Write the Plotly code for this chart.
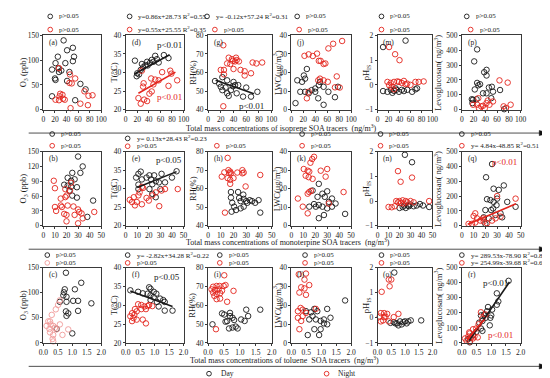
import plotly.graph_objects as go

# ---------------- data ----------------
# Row 1: isoprene SOA tracers (ng/m3)
A_DAY_X = [35, 41, 25, 51, 53, 51, 21, 38, 15, 26, 31, 27, 45, 20, 21, 41, 64, 73, 55, 15]
A_DAY_Y = [140, 120, 107, 125, 107, 98, 94, 94, 81, 83, 79, 76, 76, 63, 60, 58, 52, 41, 19, 27]
A_NIGHT_X = [27, 46, 55, 45, 49, 71, 29, 28, 21, 27, 34, 37, 47, 64, 77, 78, 85, 33]
A_NIGHT_Y = [84, 71, 63, 54, 53, 37, 32, 27, 20, 19, 22, 20, 3, 12, 9, 28, 29, 30]

D_DAY_X = [16, 20, 19, 23, 26, 30, 34, 38, 42, 45, 51, 54, 57, 66, 74, 37, 28, 48]
D_DAY_Y = [33.2, 29.8, 29.0, 29.5, 30.7, 31.4, 32.0, 31.9, 32.6, 33.4, 34.5, 33.6, 32.7, 34.7, 33.9, 32.9, 32.3, 32.9]
D_NIGHT_X = [28, 31, 30, 22, 26, 32, 37, 45, 41, 48, 51, 57, 63, 77, 79, 89, 74, 44]
D_NIGHT_Y = [30.5, 27.1, 26.2, 23.1, 21.6, 22.7, 22.3, 24.9, 24.3, 26.8, 28.1, 27.9, 30.1, 30.5, 29.7, 27.9, 26.4, 28.4]
D_FIT_DAY_X = [15, 76]
D_FIT_DAY_Y = [29.6, 34.8]
D_FIT_NIGHT_X = [22, 86]
D_FIT_NIGHT_Y = [24.4, 30.1]

G_DAY_X = [11, 17.5, 20, 22.5, 27.5, 30, 32.5, 36, 39, 42.5, 47.5, 45, 55, 60, 67.5, 77.5, 40, 30, 22.5]
G_DAY_Y = [55.4, 54, 52.3, 50.5, 51.9, 48.8, 47.4, 50.5, 52.6, 53.2, 53.2, 48.8, 47, 51.9, 47, 49.6, 54.9, 55.8, 57.5]
G_NIGHT_X = [24, 32.5, 30, 37.5, 44, 39, 35, 20, 25, 40, 42.5, 48.5, 45, 51, 70, 76, 67.5, 57.5, 25, 24, 57.5, 85]
G_NIGHT_Y = [74.7, 68, 64.9, 67.2, 68, 66.3, 64.6, 61.4, 61.4, 61.9, 66, 66, 66.7, 61.4, 65.4, 64.9, 59.6, 60.7, 59, 41.8, 58.4, 65.4]
G_FIT_DAY_X = [12, 72]
G_FIT_DAY_Y = [55.8, 48.6]

J_DAY_X = [26, 21, 18, 10, 15, 23, 29, 34, 40, 46, 48, 54, 45, 62, 73, 7, 54, 78, 23, 40]
J_DAY_Y = [21.9, 18.4, 15, 15.8, 9.6, 9.6, 8.8, 10.5, 11.4, 13.2, 14.9, 12.3, 6.1, 9.6, 6.7, 3.5, 2.6, 12.3, 16.7, 9.6]
J_NIGHT_X = [29, 36, 43, 49, 54, 57, 62, 46, 70, 85, 54, 61, 73, 76, 26, 29, 45, 48, 81, 22]
J_NIGHT_Y = [29.8, 28.9, 30.2, 26.3, 24.6, 24.9, 33, 26.3, 35.5, 37, 15.8, 15, 12, 17.9, 6.1, 9.6, 15.8, 16.7, 11.9, 29]

M_DAY_X = [51, 10, 10, 18, 24, 27, 30, 34, 39, 44, 48, 54, 63, 69, 72, 33]
M_DAY_Y = [1.79, 1.53, -0.25, -0.28, -0.2, -0.32, -0.24, -0.2, -0.28, -0.2, -0.25, -0.2, -0.28, -0.18, -0.14, -0.14]
M_NIGHT_X = [21, 32, 40, 18, 24, 30, 36, 39, 44, 51, 54, 60, 69, 75, 84, 26, 30, 48, 21]
M_NIGHT_Y = [1.53, 1.24, 1.0, 0.12, 0.08, 0.12, 0.14, 0.12, 0.08, 0.03, 0.05, 0, 0.12, 0.12, 0.14, -0.08, -0.18, 0.16, -0.01]

P_DAY_X = [26, 21, 38, 42, 42, 26, 28, 31, 22, 36, 42, 46, 51, 53, 65, 50, 17, 18, 19, 25, 72]
P_DAY_Y = [406, 325, 252, 268, 230, 180, 164, 171, 136, 110, 110, 149, 154, 121, 132, 77, 70, 44, 66, 70, 3]
P_NIGHT_X = [28, 19, 26, 29, 36, 42, 44, 47, 39, 53, 64, 78, 71, 83, 75, 33]
P_NIGHT_Y = [77, 33, 33, 11, 26, 44, 61, 33, 9, 55, 197, 182, 22, 33, 11, 22]

# Row 2: monoterpene SOA tracers (ng/m3)
B_DAY_X = [30, 34, 25, 32, 21, 24, 18, 21, 24, 29, 25, 29, 38, 43, 27, 22.5]
B_DAY_Y = [140, 120, 107, 107, 97, 91, 83, 81, 79, 78, 61, 57, 18, 51, 94, 71]
B_NIGHT_X = [9, 10, 19, 23, 24, 20, 19, 15, 15, 16, 10, 11, 21, 26, 30, 31, 33, 18, 20, 20, 30, 34, 44, 27]
B_NIGHT_Y = [91, 76, 74, 71, 87, 61, 58, 55, 41, 38, 38, 30, 41, 39, 33, 28, 25, 24, 22, 9, 5, 15, 28, 22]

E_DAY_X = [11, 13, 9, 14, 18, 20.5, 22, 24.6, 26, 23, 28.7, 31, 34, 40, 44, 11, 20.5, 23, 26, 30, 11]
E_DAY_Y = [34, 34.6, 33, 32.5, 33, 33.6, 32.5, 33.6, 32, 31.2, 31.7, 34, 31.7, 33, 34.7, 29.9, 29.9, 28.6, 27.7, 29.9, 31.1]
E_NIGHT_X = [3.5, 7, 8, 9.6, 11, 12, 14, 15, 18, 20, 23, 26, 31, 34, 29, 45, 14, 5.5]
E_NIGHT_Y = [27, 27.7, 25.5, 26.4, 28.2, 29, 30.5, 30.2, 27.5, 26.8, 28.2, 29, 29.5, 29.9, 25.3, 29.9, 25.8, 26.4]
E_FIT_DAY_X = [10, 44]
E_FIT_DAY_Y = [30.3, 34.6]

H_DAY_X = [18, 18, 19, 20.5, 22, 18.5, 23.6, 24.4, 25.6, 27.7, 28, 30, 30.8, 32.8, 34.6, 37, 39.7, 28, 41, 25.6]
H_DAY_Y = [58.2, 55.2, 52.4, 50.3, 48.5, 47.6, 58.2, 55, 53.3, 56.8, 54.5, 53.3, 52.4, 53.8, 53.3, 52.4, 53.8, 50.3, 47.1, 49.4]
H_NIGHT_X = [15.4, 16, 16.7, 17.4, 12.8, 10.8, 15.4, 17.4, 20, 23, 27, 28, 27, 29.5, 41, 18, 13.3, 17.4]
H_NIGHT_Y = [76.6, 70, 68.3, 69.2, 68.8, 66.5, 65.7, 64.8, 65.7, 68.7, 70, 68.7, 68.3, 61.2, 67.4, 68.3, 47.1, 62.6]

K_DAY_X = [23, 17.8, 21.9, 26, 28, 30, 34, 20.5, 23, 26, 30, 34, 37, 27.3, 23, 45, 31.4, 19, 15]
K_DAY_Y = [22.6, 19, 15.6, 17.3, 15.6, 18.6, 14.7, 10.3, 11.2, 10.3, 9.4, 10.3, 12, 5.8, 4.1, 6.4, 12.9, 11.7, 10.3]
K_NIGHT_X = [19, 16, 17.5, 12, 10.4, 13.7, 15, 14.5, 17.8, 28.7, 30, 24.6, 16.4, 15, 13.7, 5.5, 9.6, 13.7, 31.4, 43.7]
K_NIGHT_Y = [37.2, 34, 36, 27, 30.6, 29.7, 29.2, 26.2, 25.3, 26.5, 30.6, 29.7, 18.8, 18.2, 17.3, 14.7, 10.3, 6.7, 12, 18.2]

N_DAY_X = [24.9, 31.4, 20, 22.9, 25.7, 27.7, 30, 32.9, 35.7, 38.6, 41.4, 47, 24.3, 28.6]
N_DAY_Y = [1.87, 1.57, -0.28, -0.24, -0.28, -0.18, -0.14, -0.21, -0.18, -0.12, -0.18, -0.24, -0.18, -0.21]
N_NIGHT_X = [18.6, 21, 31.4, 10, 12.9, 17, 18.6, 20, 21.4, 22.9, 25.7, 27.1, 30, 32.9, 47, 15.7, 24]
N_NIGHT_Y = [1.21, 0.78, 0.95, -0.24, -0.25, 0, -0.05, 0, -0.08, 0.03, 0, -0.05, 0, -0.05, 0, -0.21, -0.1]

Q_DAY_X = [25.7, 20.6, 27, 31.4, 35.7, 21.4, 24.3, 27, 30, 29.5, 38.6, 45.7, 20, 24.9, 28.6, 32.9, 22.9, 20, 18.6, 26.6, 34.3]
Q_DAY_Y = [416, 327, 250, 242, 272, 179, 173, 161, 183, 139, 161, 128, 106, 106, 73, 84, 50, 13, 57, 117, 57]
Q_NIGHT_X = [45.7, 30, 11.4, 10, 12.9, 15.7, 5.7, 8.6, 11.4, 18.6, 21.4, 25.7, 28.6, 32.9, 18]
Q_NIGHT_Y = [183, 200, 84, 66, 50, 35, 13, 13, 22, 29, 17, 35, 50, 62, 50]
Q_FIT_NIGHT_X = [5, 46]
Q_FIT_NIGHT_Y = [10, 148]

# Row 3: toluene SOA tracers (ng/m3)
C_DAY_X = [0.78, 0.74, 0.71, 1.09, 1.31, 0.8, 0.8, 1.03, 1.2, 1.66, 0.57, 0.78, 0.86, 0.8, 1.2, 1.0, 0.46, 0.69]
C_DAY_Y = [140, 107, 101, 107, 120, 92, 82, 84, 84, 79, 82, 63, 59, 54, 64, 19, 28, 95]
C_NIGHT_X = [0.57, 0.51, 0.43, 0.29, 0.23, 0.25, 0.21, 0.34, 0.4, 0.46, 0.23, 0.34, 0.32, 0.34, 0.66, 0.86, 0.57, 0.11, 0.17]
C_NIGHT_Y = [85, 76, 67, 56, 43, 37, 28, 34, 30, 27, 21, 16, 8, 3, 16, 27, 37, 34, 43]

F_DAY_X = [0.16, 0.43, 0.59, 0.81, 0.86, 0.76, 0.86, 0.97, 1.06, 0.97, 1.19, 1.3, 1.35, 1.08, 0.86, 1.62, 1.35, 1.14]
F_DAY_Y = [34, 33.6, 33.2, 34.8, 34.4, 33.1, 32.7, 33.6, 33.1, 32.2, 31.8, 31.4, 30.9, 30.9, 31.4, 28.6, 28.6, 29.7]
F_NIGHT_X = [0.43, 0.54, 0.65, 0.7, 0.54, 0.38, 0.22, 0.3, 0.16, 0.27, 0.38, 0.59, 0.7, 0.76, 0.92, 0.81, 0.22, 0.32]
F_NIGHT_Y = [30.3, 30.1, 29.7, 29, 29, 28.4, 27.9, 27.5, 27.1, 26.6, 26.2, 26.2, 25.2, 29.8, 29.8, 30.1, 25.8, 29]
F_FIT_DAY_X = [0.16, 1.62]
F_FIT_DAY_Y = [33.8, 29.7]

I_DAY_X = [0.14, 0.44, 0.51, 0.69, 0.69, 0.77, 0.82, 0.6, 0.66, 0.77, 0.87, 0.93, 1.04, 1.15, 1.2, 1.26, 1.64, 0.55]
I_DAY_Y = [49.9, 55.7, 55.1, 56, 54.3, 53.4, 52.2, 51.6, 47.7, 48.2, 48.7, 47.7, 52.5, 51.7, 57.7, 54.3, 57.7, 51.3]
I_NIGHT_X = [0.51, 0.16, 0.27, 0.36, 0.49, 0.11, 0.22, 0.33, 0.44, 0.16, 0.27, 0.38, 0.27, 0.38, 0.6, 0.8, 0.25, 0.55, 0.2]
I_NIGHT_Y = [76, 69.9, 70.3, 70.3, 70.3, 68.5, 68.2, 68.5, 67.8, 66.8, 66.1, 66.5, 63.3, 63.6, 61.9, 67.7, 47.3, 70.8, 65]

L_DAY_X = [0.49, 0.66, 0.77, 0.87, 0.71, 0.82, 0.98, 1.09, 1.2, 1.31, 1.2, 1.8, 0.55, 0.93, 0.77, 0.98, 0.6, 1.09]
L_DAY_Y = [16.9, 16.3, 18.1, 16.9, 14.3, 12.5, 11.7, 10.4, 9.9, 13.4, 18.1, 22.6, 4.2, 4.2, 7.3, 7.3, 12.5, 12.5]
L_NIGHT_X = [0.25, 0.49, 0.44, 0.6, 0.33, 0.44, 0.27, 0.49, 0.31, 0.38, 0.22, 0.49, 0.82, 0.22, 0.33, 0.27, 0.38]
L_NIGHT_Y = [36.5, 36.9, 33.7, 30.8, 29.6, 29, 26.8, 25.6, 18.6, 17.7, 16.9, 16, 18.1, 13.4, 11.7, 7.3, 14.3]

O_DAY_X = [0.61, 0.47, 0.59, 0.71, 0.76, 0.88, 0.94, 1.0, 1.06, 1.12, 1.21, 1.59, 0.82, 0.65]
O_DAY_Y = [1.81, -0.2, -0.17, -0.22, -0.3, -0.26, -0.17, -0.14, -0.22, -0.14, -0.1, -0.1, -0.14, -0.22]
O_NIGHT_X = [0.41, 0.5, 0.44, 0.15, 0.12, 0.24, 0.35, 0.08, 0.24, 0.29, 0.59, 0.76, 0.12, 0.2, 0.41]
O_NIGHT_Y = [1.53, 1.53, 1.26, 1.04, 0.19, 0.19, 0.16, 0.05, 0.03, 0.05, 0.03, 0.16, -0.14, -0.1, -0.14]

R_DAY_X = [1.59, 1.19, 1.24, 1.19, 0.89, 0.65, 0.76, 0.81, 0.97, 0.95, 0.7, 1.03, 0.59, 0.65, 0.7, 0.49, 0.38, 0.22, 0.27, 0.86, 1.0]
R_DAY_Y = [413, 330, 276, 254, 239, 183, 189, 167, 167, 117, 146, 222, 135, 96, 80, 74, 52, 26, 4, 211, 183]
R_NIGHT_X = [0.65, 0.81, 0.7, 0.57, 0.49, 0.38, 0.27, 0.11, 0.22, 0.32, 0.38, 0.16, 0.27, 0.43, 0.54, 0.25]
R_NIGHT_Y = [204, 189, 161, 124, 96, 91, 63, 30, 43, 37, 30, 15, 9, 43, 37, 70]
R_FIT_DAY_X = [0.25, 1.62]
R_FIT_DAY_Y = [15, 405]
R_FIT_NIGHT_X = [0.18, 0.76]
R_FIT_NIGHT_Y = [22, 155]

ROW_TITLES = [
    "Total mass concentrations of isoprene SOA tracers  (ng/m<sup>3</sup>)",
    "Total mass concentrations of monoterpine SOA tracers  (ng/m<sup>3</sup>)",
    "Total mass concentrations of toluene  SOA tracers  (ng/m<sup>3</sup>)",
]
Y_TITLES = ["O<sub>3</sub> (ppb)", "T(°C)", "RH(%)", "LWC(μg/m<sup>3</sup>)",
            "pH<sub>IS</sub>", "Levoglucosan( ng/m<sup>3</sup>)"]
LETTERS = [["a", "d", "g", "j", "m", "p"],
           ["b", "e", "h", "k", "n", "q"],
           ["c", "f", "i", "l", "o", "r"]]

# ---------------- style / layout ----------------
W, H = 550, 378
FONT = "Liberation Serif"
BLACK = "#1a1a1a"
RED = "#e3241c"
PINK = "#f09a98"

COL_X = [(31, 90), (115, 174), (199, 264), (284, 345), (372, 428), (458, 518)]
ROW_Y = [(24, 100), (143, 219), (262, 339)]
Y_RANGES = [[0, 150], [20, 40], [40, 80], [0, 40], [-1, 2], [0, 500]]
Y_DTICKS = [[50, 30, 50], [5] * 3, [10] * 3, [10] * 3, [1] * 3, [100] * 3]
X_RANGES = [[0, 100], [0, 50], [0, 2]]
X_DTICKS = [20, 10, 0.5]
Y_TITLE_X = [11, 103, 183, 270, 361, 434]
ROW_TITLE_POS = [(274, 119), (281, 235.5), (277, 356)]
SEP_Y = [124, 243, 363]


def fx(p):
    return p / W


def fy(p):
    return 1 - p / H


PANELS = {
    (0, 0): (A_DAY_X, A_DAY_Y, A_NIGHT_X, A_NIGHT_Y),
    (0, 1): (D_DAY_X, D_DAY_Y, D_NIGHT_X, D_NIGHT_Y),
    (0, 2): (G_DAY_X, G_DAY_Y, G_NIGHT_X, G_NIGHT_Y),
    (0, 3): (J_DAY_X, J_DAY_Y, J_NIGHT_X, J_NIGHT_Y),
    (0, 4): (M_DAY_X, M_DAY_Y, M_NIGHT_X, M_NIGHT_Y),
    (0, 5): (P_DAY_X, P_DAY_Y, P_NIGHT_X, P_NIGHT_Y),
    (1, 0): (B_DAY_X, B_DAY_Y, B_NIGHT_X, B_NIGHT_Y),
    (1, 1): (E_DAY_X, E_DAY_Y, E_NIGHT_X, E_NIGHT_Y),
    (1, 2): (H_DAY_X, H_DAY_Y, H_NIGHT_X, H_NIGHT_Y),
    (1, 3): (K_DAY_X, K_DAY_Y, K_NIGHT_X, K_NIGHT_Y),
    (1, 4): (N_DAY_X, N_DAY_Y, N_NIGHT_X, N_NIGHT_Y),
    (1, 5): (Q_DAY_X, Q_DAY_Y, Q_NIGHT_X, Q_NIGHT_Y),
    (2, 0): (C_DAY_X, C_DAY_Y, C_NIGHT_X, C_NIGHT_Y),
    (2, 1): (F_DAY_X, F_DAY_Y, F_NIGHT_X, F_NIGHT_Y),
    (2, 2): (I_DAY_X, I_DAY_Y, I_NIGHT_X, I_NIGHT_Y),
    (2, 3): (L_DAY_X, L_DAY_Y, L_NIGHT_X, L_NIGHT_Y),
    (2, 4): (O_DAY_X, O_DAY_Y, O_NIGHT_X, O_NIGHT_Y),
    (2, 5): (R_DAY_X, R_DAY_Y, R_NIGHT_X, R_NIGHT_Y),
}

FITS = {
    (0, 1): [(D_FIT_DAY_X, D_FIT_DAY_Y, BLACK), (D_FIT_NIGHT_X, D_FIT_NIGHT_Y, RED)],
    (0, 2): [(G_FIT_DAY_X, G_FIT_DAY_Y, BLACK)],
    (1, 1): [(E_FIT_DAY_X, E_FIT_DAY_Y, BLACK)],
    (1, 5): [(Q_FIT_NIGHT_X, Q_FIT_NIGHT_Y, RED)],
    (2, 1): [(F_FIT_DAY_X, F_FIT_DAY_Y, BLACK)],
    (2, 5): [(R_FIT_DAY_X, R_FIT_DAY_Y, BLACK), (R_FIT_NIGHT_X, R_FIT_NIGHT_Y, RED)],
}

PV = "p>0.05"
LEGENDS = [
    (BLACK, PV, 38, 4.5), (RED, PV, 38, 18),
    (BLACK, "y=0.86x+28.73 R<sup>2</sup>=0.55", 119, 4.5), (RED, "y=0.55x+25.55 R<sup>2</sup>=0.35", 119, 18),
    (BLACK, "y= -0.12x+57.24 R<sup>2</sup>=0.31", 198, 4.5), (RED, PV, 206, 18),
    (BLACK, PV, 290, 4.5), (RED, PV, 292, 18),
    (BLACK, PV, 376, 4.5), (RED, PV, 376, 18),
    (BLACK, PV, 463, 4.5), (RED, PV, 467, 18),
    (BLACK, PV, 40, 125), (RED, PV, 40, 137),
    (BLACK, "y= 0.13x+28.43 R<sup>2</sup>=0.23", 117, 129.5), (RED, PV, 117, 137.5),
    (RED, PV, 208, 137),
    (BLACK, PV, 295, 125), (RED, PV, 295, 137),
    (BLACK, PV, 375, 125), (RED, PV, 375, 137),
    (BLACK, PV, 458, 125), (RED, "y= 4.84x-48.85 R<sup>2</sup>=0.51", 458, 137),
    (BLACK, PV, 35, 249), (PINK, PV, 35, 257),
    (BLACK, "y= -2.82x+34.28 R<sup>2</sup>=0.22", 117, 249), (RED, PV, 117, 257),
    (BLACK, PV, 211, 249), (RED, PV, 211, 257),
    (BLACK, PV, 298, 249), (RED, PV, 298, 257),
    (BLACK, PV, 376, 249), (RED, PV, 376, 257),
    (BLACK, "y= 289.53x-78.90 R<sup>2</sup>=0.84", 458, 249), (RED, "y= 254.99x-39.68 R<sup>2</sup>=0.67", 458, 257),
]

PNOTES = [
    ("p<0.01", BLACK, 160, 34), ("p<0.01", RED, 160, 87),
    ("p<0.01", BLACK, 243, 96),
    ("p<0.05", BLACK, 159, 152),
    ("p<0.01", RED, 502, 154),
    ("p<0.05", BLACK, 157, 271),
    ("p<0.01", BLACK, 492, 278), ("p<0.01", RED, 497, 331),
]

fig = go.Figure()
layout = dict(width=W, height=H, margin=dict(l=0, r=0, t=0, b=0),
              paper_bgcolor="white", plot_bgcolor="white", showlegend=False,
              font=dict(family=FONT, color=BLACK))
annotations = []
shapes = []

for (r, c), (dx, dy, nx, ny) in PANELS.items():
    n = r * 6 + c + 1
    xa = "xaxis" if n == 1 else f"xaxis{n}"
    ya = "yaxis" if n == 1 else f"yaxis{n}"
    xr = "x" if n == 1 else f"x{n}"
    yr = "y" if n == 1 else f"y{n}"
    axis_common = dict(showline=True, mirror=True, linecolor="#3a3a3a", linewidth=0.8,
                       ticks="outside", ticklen=2, tickwidth=0.8, tickcolor="#3a3a3a",
                       showgrid=False, zeroline=False, tickangle=0,
                       tickfont=dict(family=FONT, size=7.5, color=BLACK))
    layout[xa] = dict(axis_common, domain=[fx(COL_X[c][0]), fx(COL_X[c][1])],
                      range=X_RANGES[r], dtick=X_DTICKS[r], tick0=0, anchor=yr,
                      tickformat=".1f" if r == 2 else None)
    layout[ya] = dict(axis_common, domain=[fy(ROW_Y[r][1]), fy(ROW_Y[r][0])],
                      range=Y_RANGES[c], dtick=Y_DTICKS[c][r], tick0=0, anchor=xr)
    night_col = PINK if (r, c) == (2, 0) else RED
    fig.add_trace(go.Scatter(x=dx, y=dy, mode="markers", xaxis=xr, yaxis=yr, cliponaxis=False,
                             marker=dict(symbol="circle-open", size=5.5, color=BLACK, line=dict(width=0.9))))
    fig.add_trace(go.Scatter(x=nx, y=ny, mode="markers", xaxis=xr, yaxis=yr, cliponaxis=False,
                             marker=dict(symbol="circle-open", size=5.5, color=night_col, line=dict(width=0.9))))
    for lx, ly, col in FITS.get((r, c), []):
        fig.add_trace(go.Scatter(x=lx, y=ly, mode="lines", xaxis=xr, yaxis=yr,
                                 line=dict(color=col, width=1.6)))
    # panel letter
    annotations.append(dict(x=fx(COL_X[c][0] + 4), y=fy(ROW_Y[r][0] + 7), xref="paper", yref="paper",
                            text=f"({LETTERS[r][c]})", showarrow=False, xanchor="left", yanchor="middle",
                            font=dict(family=FONT, size=7.5, color=BLACK)))
    # y title
    annotations.append(dict(x=fx(Y_TITLE_X[c]), y=fy((ROW_Y[r][0] + ROW_Y[r][1]) / 2),
                            xref="paper", yref="paper", text=Y_TITLES[c], textangle=-90,
                            showarrow=False, xanchor="center", yanchor="middle",
                            font=dict(family=FONT, size=8.5, color=BLACK)))

# row titles and separator arrows
for i, t in enumerate(ROW_TITLES):
    x, y = ROW_TITLE_POS[i]
    annotations.append(dict(x=fx(x), y=fy(y), xref="paper", yref="paper", text=t, showarrow=False,
                            xanchor="center", yanchor="middle", font=dict(family=FONT, size=8, color=BLACK)))
    sy = SEP_Y[i]
    shapes.append(dict(type="line", xref="paper", yref="paper", x0=fx(16), x1=fx(539), y0=fy(sy), y1=fy(sy),
                       line=dict(color="#222", width=0.8)))
    shapes.append(dict(type="path", xref="paper", yref="paper",
                       path=f"M {fx(537)},{fy(sy - 2.6)} L {fx(547)},{fy(sy)} L {fx(537)},{fy(sy + 2.6)} Z",
                       fillcolor="#111", line=dict(color="#111", width=0.5)))

# per-panel legends
for col, txt, cx, y in LEGENDS:
    shapes.append(dict(type="circle", xref="paper", yref="paper",
                       x0=fx(cx - 2.4), x1=fx(cx + 2.4), y0=fy(y + 2.4), y1=fy(y - 2.4),
                       line=dict(color=col, width=0.9)))
    annotations.append(dict(x=fx(cx + 7), y=fy(y), xref="paper", yref="paper", text=txt, showarrow=False,
                            xanchor="left", yanchor="middle", font=dict(family=FONT, size=7, color=BLACK)))

for txt, col, x, y in PNOTES:
    annotations.append(dict(x=fx(x), y=fy(y), xref="paper", yref="paper", text=txt, showarrow=False,
                            xanchor="center", yanchor="middle", font=dict(family=FONT, size=9, color=col)))

# Day / Night legend
LEG_Y = 370.5
for col, txt, cx in [(BLACK, "Day", 200), (RED, "Night", 320)]:
    shapes.append(dict(type="circle", xref="paper", yref="paper",
                       x0=fx(cx - 2.4), x1=fx(cx + 2.4), y0=fy(LEG_Y + 2.4), y1=fy(LEG_Y - 2.4),
                       line=dict(color=col, width=0.9)))
    annotations.append(dict(x=fx(cx + 10), y=fy(LEG_Y), xref="paper", yref="paper", text=txt, showarrow=False,
                            xanchor="left", yanchor="middle", font=dict(family=FONT, size=7.5, color=BLACK)))

layout["annotations"] = annotations
layout["shapes"] = shapes
fig.update_layout(**layout)
fig.write_html("out.html")
